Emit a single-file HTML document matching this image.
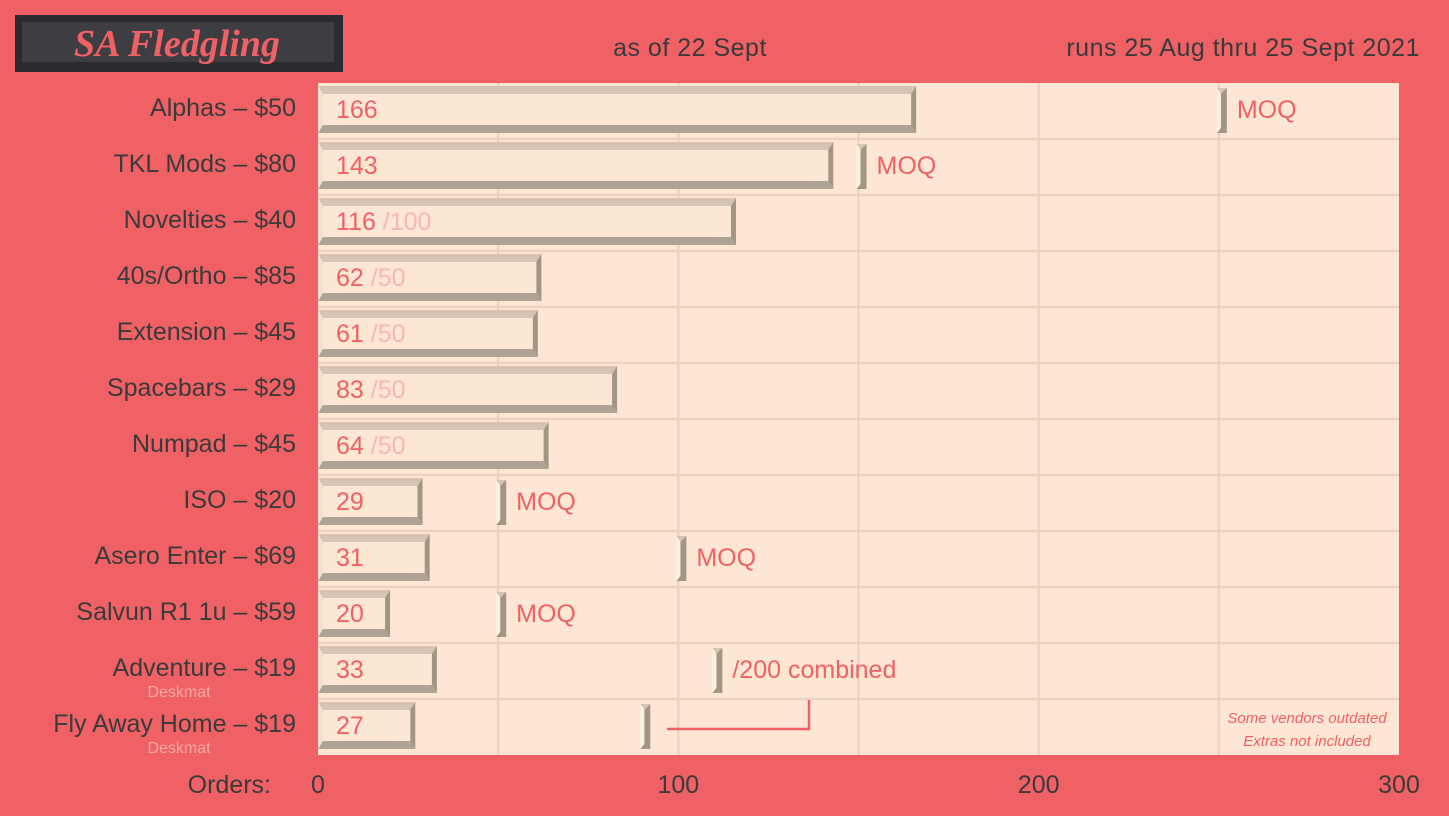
<!DOCTYPE html>
<html><head><meta charset="utf-8"><style>
html,body{margin:0;padding:0;background:#f06166;}
svg{display:block;font-family:"Liberation Sans",sans-serif;}
</style></head><body>
<svg width="1449" height="816" viewBox="0 0 1449 816">
<g>
<rect x="15" y="15" width="328" height="57" fill="#2b2a2e"/>
<rect x="22" y="22" width="312" height="40" fill="#3d3d42"/>
<text x="177" y="56" text-anchor="middle" font-family="Liberation Serif,serif" font-style="italic" font-weight="bold" font-size="38" fill="#f06166">SA Fledgling</text>
</g>
<text x="690" y="56" text-anchor="middle" font-size="25" letter-spacing="0.5" fill="#3a3a3a">as of 22 Sept</text>
<text x="1420" y="56" text-anchor="end" font-size="25" letter-spacing="0.5" fill="#3a3a3a">runs 25 Aug thru 25 Sept 2021</text>
<rect x="318" y="83" width="1081" height="672" fill="#fde6d4"/>
<g id="grid"></g>
<g id="marks"></g>
<g id="labels"></g>
<g id="xticks"></g>
<text x="271" y="793" text-anchor="end" font-size="25" fill="#3a3a3a">Orders:</text>
<polyline points="667,729 809,729 809,700" fill="none" stroke="#f06166" stroke-width="2.5"/>
<text x="1307" y="723" text-anchor="middle" font-size="15" font-style="italic" fill="#f06166">Some vendors outdated</text>
<text x="1307" y="746" text-anchor="middle" font-size="15" font-style="italic" fill="#f06166">Extras not included</text>
</svg>
<script>
const categories=["Alphas – $50","TKL Mods – $80","Novelties – $40","40s/Ortho – $85","Extension – $45","Spacebars – $29","Numpad – $45","ISO – $20","Asero Enter – $69","Salvun R1 1u – $59","Adventure – $19","Fly Away Home – $19"];
const subLabels=["","","","","","","","","","","Deskmat","Deskmat"];
const orders=[166,143,116,62,61,83,64,29,31,20,33,27];
const targets=[null,null,100,50,50,50,50,null,null,null,null,null];
const moq=[250,150,null,null,null,null,null,50,100,50,110,90];
const moqText=["MOQ","MOQ","","","","","","MOQ","MOQ","MOQ","/200 combined",""];
const xTicks=[0,100,200,300];
const gridVals=[50,100,150,200,250];
const NS="http://www.w3.org/2000/svg";
const X0=318,X1=1399,XMAX=300,Y0=83,RH=56;
const x=v=>X0+(X1-X0)*v/XMAX;
const yRow=i=>Y0+i*RH;
function mk(t,a,p){const e=document.createElementNS(NS,t);for(const k in a)e.setAttribute(k,a[k]);p.appendChild(e);return e;}
const grid=document.getElementById('grid'),marks=document.getElementById('marks'),labels=document.getElementById('labels'),xt=document.getElementById('xticks');
gridVals.forEach(v=>{const l=mk('line',{x1:x(v),x2:x(v),y1:Y0,y2:Y0+RH*categories.length,stroke:'#ecd3c0','stroke-width':2.5},grid);

});
for(let i=1;i<categories.length;i++){const l=mk('line',{x1:X0,x2:X1,y1:yRow(i),y2:yRow(i),stroke:'#ecd3c0','stroke-width':2.5},grid);

}
function bevel(g,x1,y1,x2,y2,bt,bs){
mk('rect',{x:x1,y:y1,width:x2-x1,height:y2-y1,fill:'#fce6d4'},g);
mk('polygon',{points:`${x1},${y1} ${x2},${y1} ${x2-bs},${y1+bt} ${x1+bs},${y1+bt}`,fill:'#d6c4b2'},g);
mk('polygon',{points:`${x1},${y1} ${x1+bs},${y1+bt} ${x1+bs},${y2-bt} ${x1},${y2}`,fill:'#efe0cf'},g);
mk('polygon',{points:`${x1},${y2} ${x2},${y2} ${x2-bs},${y2-bt} ${x1+bs},${y2-bt}`,fill:'#b0a393'},g);
mk('polygon',{points:`${x2},${y1} ${x2},${y2} ${x2-bs},${y2-bt} ${x2-bs},${y1+bt}`,fill:'#a39584'},g);}
categories.forEach((c,i)=>{
const t=yRow(i);
const g=mk('g',{},marks);


bevel(g,X0,t+3,x(orders[i]),t+50,8,5);
const v=mk('text',{x:336,y:t+35,'font-size':25,fill:'#f06166'},labels);


v.textContent=orders[i];
if(targets[i]!=null){const ts=mk('tspan',{fill:'#f7b8ad'},v);ts.textContent=' /'+targets[i];}
if(moq[i]!=null){const m=mk('g',{},marks);


const mx=x(moq[i])-2;
mk('polygon',{points:`${mx},${t+5} ${mx+5},${t+10} ${mx+5},${t+44} ${mx},${t+50}`,fill:'#fff2e0'},m);
mk('polygon',{points:`${mx},${t+5} ${mx+10},${t+5} ${mx+10},${t+50} ${mx},${t+50} ${mx+4},${t+45} ${mx+4},${t+10}`,fill:'#a39584'},m);
mk('polygon',{points:`${mx},${t+5} ${mx+10},${t+5} ${mx+5},${t+10} ${mx+4},${t+10}`,fill:'#d6c4b2'},m);
mk('polygon',{points:`${mx},${t+5} ${mx+4},${t+10} ${mx+4},${t+45} ${mx},${t+50}`,fill:'#fdf0dd'},m);
if(moqText[i]){const mt=mk('text',{x:mx+20,y:t+35,'font-size':25,fill:'#f06166'},labels);


mt.textContent=moqText[i];}}
const cl=mk('text',{x:296,y:t+33,'text-anchor':'end','font-size':25,fill:'#3a3a3a'},labels);


cl.textContent=c;
if(subLabels[i]){const s=mk('text',{x:179,y:t+54,'text-anchor':'middle','font-size':16,fill:'#f8a9a3'},labels);


s.textContent=subLabels[i];}
});
xTicks.forEach(v=>{const tx=mk('text',{x:x(v),y:793,'text-anchor':'middle','font-size':25,fill:'#3a3a3a'},xt);


tx.textContent=v;});
</script>
</body></html>
